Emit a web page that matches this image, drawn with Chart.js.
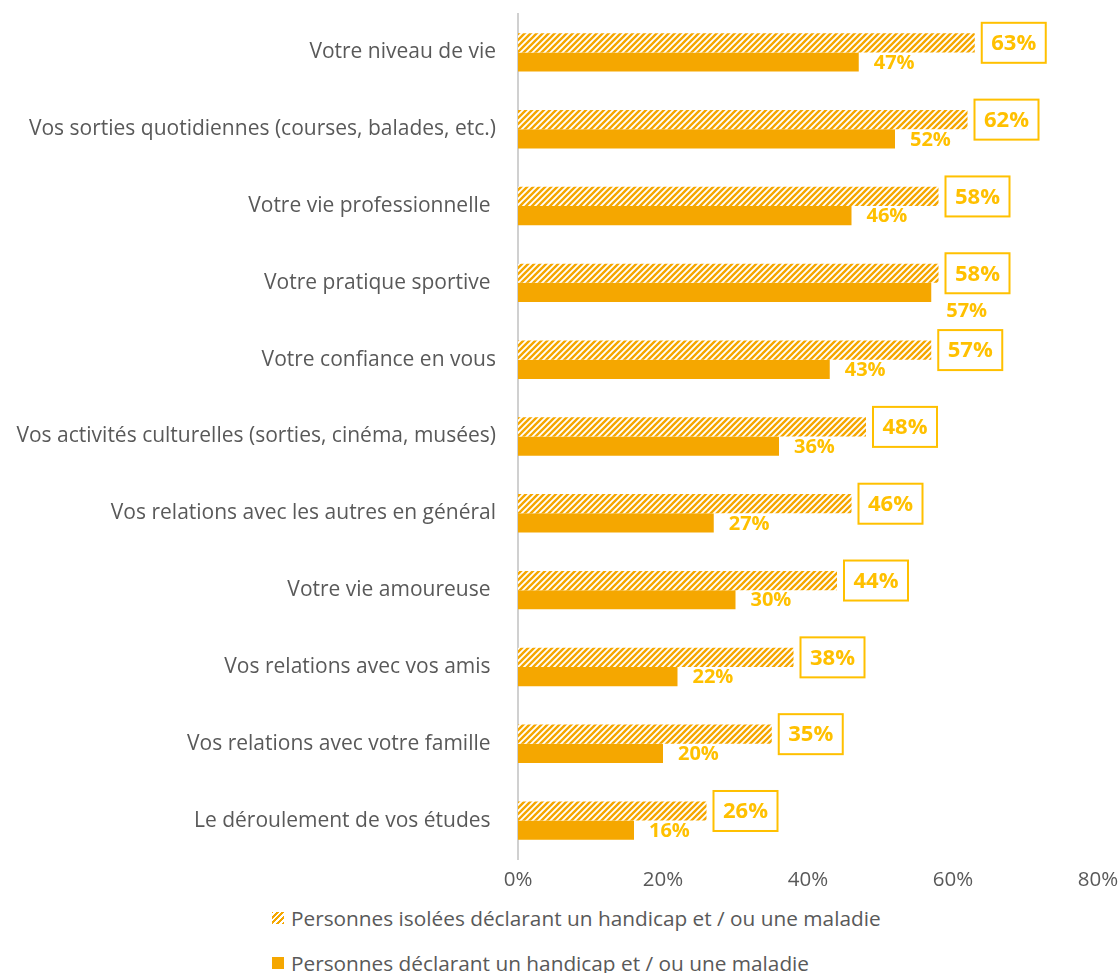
<!DOCTYPE html>
<html lang="fr">
<head>
<meta charset="utf-8">
<script src="https://cdn.jsdelivr.net/npm/chart.js@4"></script>
<style>
  body { margin: 0; background: #fff; width: 1120px; height: 973px; overflow: hidden; font-family: "Open Sans", sans-serif; }
  #wrap { position: relative; width: 1120px; height: 900px; }
  .legend { position: absolute; left: 272px; color: #595959; font-size: 20.8px; display: flex; align-items: center; line-height: 28px; }
  .sw { width: 12px; height: 12px; margin-right: 7px; }
  .sw.hatch { background: repeating-linear-gradient(-45deg, #F5A700 0 2px, #fff 2px 4px); }
  .sw.solid { background: #F5A700; }
</style>
</head>
<body>
<div id="wrap"><canvas id="chart"></canvas></div>
<div class="legend" style="top:904px"><span class="sw hatch"></span>Personnes isolées déclarant un handicap et / ou une maladie</div>
<div class="legend" style="top:949px"><span class="sw solid"></span>Personnes déclarant un handicap et / ou une maladie</div>
<script>
const categories = [
  "Votre niveau de vie",
  "Vos sorties quotidiennes (courses, balades, etc.)",
  "Votre vie professionnelle ",
  "Votre pratique sportive ",
  "Votre confiance en vous",
  "Vos activités culturelles (sorties, cinéma, musées)",
  "Vos relations avec les autres en général",
  "Votre vie amoureuse ",
  "Vos relations avec vos amis ",
  "Vos relations avec votre famille ",
  "Le déroulement de vos études "
];
const isolatedValues = [63, 62, 58, 58, 57, 48, 46, 44, 38, 35, 26];
const allValues = [47, 52, 46, 57, 43, 36, 27, 30, 22, 20, 16];
const seriesNames = [
  "Personnes isolées déclarant un handicap et / ou une maladie",
  "Personnes déclarant un handicap et / ou une maladie"
];
const xTicks = [0, 20, 40, 60, 80];

const ORANGE = "#F5A700";
const LABEL = "#FFC000";

// diagonal hatch for the "isolées" series
function makeHatch() {
  const c = document.createElement("canvas");
  c.width = 6; c.height = 6;
  const g = c.getContext("2d");
  g.fillStyle = "#fff";
  g.fillRect(0, 0, 6, 6);
  g.strokeStyle = ORANGE;
  g.lineWidth = 2.4;
  g.beginPath();
  g.moveTo(-1, 7); g.lineTo(7, -1);
  g.moveTo(-4, 4); g.lineTo(4, -4);
  g.moveTo(2, 10); g.lineTo(10, 2);
  g.stroke();
  return g.createPattern(c, "repeat");
}

const canvas = document.getElementById("chart");
canvas.width = 1120; canvas.height = 900;
const hatch = makeHatch();

// -------- value labels ----------
const valueLabels = {
  id: "valueLabels",
  afterDatasetsDraw(chart) {
    const ctx = chart.ctx;
    const boxes = [];
    ctx.save();
    chart.getDatasetMeta(0).data.forEach((bar, i) => {
      const w = 64, h = 40;
      const x = bar.x + 7, y = bar.y - h / 2;
      boxes.push({ x, y, w, h });
      ctx.fillStyle = "#fff";
      ctx.fillRect(x, y, w, h);
      ctx.strokeStyle = LABEL;
      ctx.lineWidth = 2;
      ctx.strokeRect(x, y, w, h);
      ctx.font = "bold 22px 'Open Sans', sans-serif";
      ctx.fillStyle = LABEL;
      ctx.textAlign = "center";
      ctx.textBaseline = "middle";
      ctx.fillText(isolatedValues[i] + "%", x + w / 2, bar.y + 1);
    });
    chart.getDatasetMeta(1).data.forEach((bar, i) => {
      ctx.font = "bold 20px 'Open Sans', sans-serif";
      const txt = allValues[i] + "%";
      const tx = bar.x + 15;
      const tw = ctx.measureText(txt).width;
      let ty = bar.y + 1;
      // push the label under the box when they would collide
      const b = boxes[i];
      if (tx < b.x + b.w && tx + tw > b.x && ty - 9 < b.y + b.h) ty = b.y + b.h + 18;
      ctx.fillStyle = LABEL;
      ctx.textAlign = "left";
      ctx.textBaseline = "middle";
      ctx.fillText(txt, tx, ty);
    });
    ctx.restore();
  }
};

new Chart(canvas, {
  type: "bar",
  data: {
    labels: categories,
    datasets: [
      { label: seriesNames[0], data: isolatedValues, backgroundColor: hatch },
      { label: seriesNames[1], data: allValues, backgroundColor: ORANGE }
    ]
  },
  options: {
    indexAxis: "y",
    responsive: false,
    animation: false,
    categoryPercentage: 0.5,
    barPercentage: 1.0,
    layout: { padding: { top: 14, right: 22, left: 0, bottom: 0 } },
    plugins: { legend: { display: false }, tooltip: { enabled: false } },
    scales: {
      x: {
        min: 0, max: 80,
        afterBuildTicks: s => { s.ticks = xTicks.map(v => ({ value: v })); },
        afterFit: s => { s.height = 41; s.paddingLeft = 0; s.paddingRight = 0; },
        grid: { display: false, drawTicks: false },
        border: { display: false },
        ticks: { color: "#595959", font: { family: "Open Sans", size: 20.5 }, padding: 9, callback: v => v + "%" }
      },
      y: {
        afterFit: s => { s.width = 518; s.paddingTop = 0; s.paddingBottom = 0; },
        grid: { display: false, drawTicks: false },
        border: { display: true, color: "#D0D0D0", width: 2 },
        ticks: { color: "#595959", font: { family: "Open Sans", size: 21 }, padding: 22 }
      }
    }
  },
  plugins: [valueLabels]
});
</script>
</body>
</html>
